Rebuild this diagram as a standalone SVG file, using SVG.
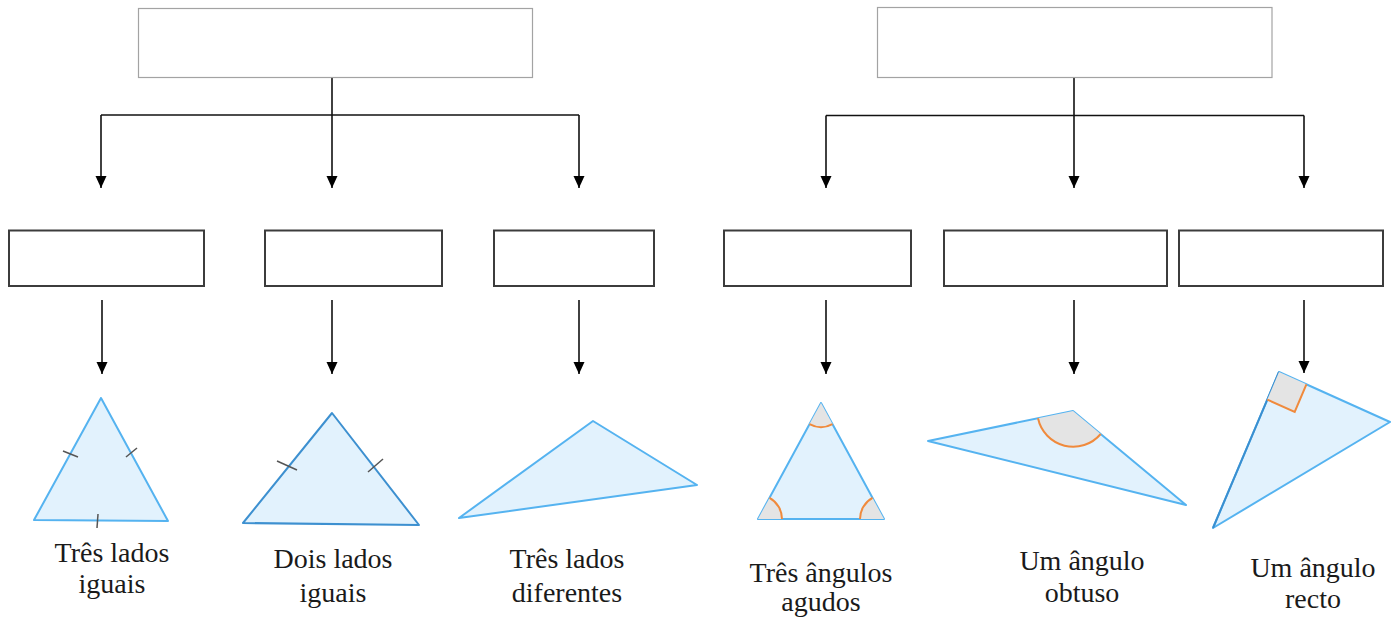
<svg xmlns="http://www.w3.org/2000/svg" width="1400" height="622" viewBox="0 0 1400 622">
<defs>
<marker id="ah" viewBox="0 0 12 12" markerUnits="userSpaceOnUse" markerWidth="12" markerHeight="12" refX="12" refY="6" orient="auto">
<path d="M0,0.5 L12,6 L0,11.5 z" fill="#000"/>
</marker>
</defs>
<style>
.top{fill:#fff;stroke:#a3a3a3;stroke-width:1.2}
.box{fill:#fff;stroke:#3c3c3c;stroke-width:2}
.con{fill:none;stroke:#111;stroke-width:1.6}
.arr{fill:none;stroke:#111;stroke-width:1.6;marker-end:url(#ah)}
.tri{fill:#e2f2fd;stroke:#55b3f0;stroke-width:2;stroke-linejoin:round}
.tri2{fill:#e2f2fd;stroke:#3d90d0;stroke-width:2;stroke-linejoin:round}
.edge{stroke:#3a8fd0;stroke-width:2}
.tick{stroke:#555;stroke-width:1.5}
.ang{fill:#e4e4e4;stroke:none}
.arc{fill:none;stroke:#f08a3c;stroke-width:2}
.lbl{font-family:"Liberation Serif","Times New Roman",serif;font-size:28px;fill:#1a1a1a;text-anchor:middle}
</style>
<rect width="1400" height="622" fill="#fff"/>

<g id="connectors">
<path class="arr" d="M332,77 V188"/>
<path class="con" d="M101,115 H579"/>
<path class="arr" d="M101,115 V188"/>
<path class="arr" d="M579,115 V188"/>
<path class="arr" d="M1074,78 V188"/>
<path class="con" d="M826,115.5 H1304"/>
<path class="arr" d="M826,115.5 V188"/>
<path class="arr" d="M1304,115.5 V188"/>
<path class="arr" d="M102,300 V374"/>
<path class="arr" d="M332,300 V374"/>
<path class="arr" d="M579,300 V374"/>
<path class="arr" d="M826,300 V374"/>
<path class="arr" d="M1074,300 V374"/>
<path class="arr" d="M1304,300 V373"/>
</g>

<g id="top-left"><rect class="top" x="138.5" y="8.5" width="394" height="69"/></g>
<g id="top-right"><rect class="top" x="877.5" y="7.5" width="394.5" height="70"/></g>

<g id="box-1"><rect class="box" x="9" y="230.5" width="195" height="55.5"/></g>
<g id="box-2"><rect class="box" x="265" y="230.5" width="177" height="55.5"/></g>
<g id="box-3"><rect class="box" x="494" y="230.5" width="160" height="55.5"/></g>
<g id="box-4"><rect class="box" x="724" y="230.5" width="187" height="55.5"/></g>
<g id="box-5"><rect class="box" x="944" y="230.5" width="223" height="55.5"/></g>
<g id="box-6"><rect class="box" x="1179" y="230.5" width="204" height="55.5"/></g>

<g id="equilateral">
<polygon class="tri" points="101,398 34,520 168,521"/>
<line class="tick" x1="63" y1="451" x2="78" y2="457"/>
<line class="tick" x1="126" y1="457" x2="137" y2="448"/>
<line class="tick" x1="98" y1="514" x2="97" y2="528"/>
<text class="lbl" x="112" y="562">Três lados</text>
<text class="lbl" x="112" y="593">iguais</text>
</g>

<g id="isosceles">
<polygon class="tri2" points="332,413 243,523 419,525"/>
<line class="tick" x1="277" y1="461" x2="297" y2="470"/>
<line class="tick" x1="368" y1="472" x2="383" y2="459"/>
<text class="lbl" x="333" y="568">Dois lados</text>
<text class="lbl" x="333" y="602">iguais</text>
</g>

<g id="scalene">
<polygon class="tri" points="593,421 697,485 459,518"/>
<text class="lbl" x="567" y="568">Três lados</text>
<text class="lbl" x="567" y="602">diferentes</text>
</g>

<g id="acute">
<polygon class="tri" points="821,403 758,519 884,519"/>
<path class="ang" d="M821,403 L809.5,424.1 A24,24 0 0 0 832.5,424.1 Z"/>
<path class="ang" d="M758,519 L782,519 A24,24 0 0 0 769.5,497.9 Z"/>
<path class="ang" d="M884,519 L860,519 A24,24 0 0 1 872.5,497.9 Z"/>
<path class="arc" d="M809.5,424.1 A24,24 0 0 0 832.5,424.1"/>
<path class="arc" d="M782,519 A24,24 0 0 0 769.5,497.9"/>
<path class="arc" d="M860,519 A24,24 0 0 1 872.5,497.9"/>
<text class="lbl" x="821" y="582">Três ângulos</text>
<text class="lbl" x="821" y="611">agudos</text>
</g>

<g id="obtuse">
<polygon class="tri" points="928,441 1073,411 1186,505"/>
<path class="ang" d="M1073,411 L1038,418.3 A36,36 0 0 0 1100.7,434 Z"/>
<path class="arc" d="M1038,418.3 A36,36 0 0 0 1100.7,434"/>
<text class="lbl" x="1082" y="570">Um ângulo</text>
<text class="lbl" x="1082" y="602">obtuso</text>
</g>

<g id="right">
<polygon class="tri" points="1279,372 1390,422 1213,528"/>
<line class="edge" x1="1279" y1="372" x2="1213" y2="528"/>
<polygon class="ang" points="1279,372 1306.4,384.3 1294.7,411.9 1267.3,399.6"/>
<path class="arc" d="M1306.4,384.3 L1294.7,411.9 L1267.3,399.6"/>
<text class="lbl" x="1313" y="577">Um ângulo</text>
<text class="lbl" x="1313" y="608">recto</text>
</g>
</svg>
